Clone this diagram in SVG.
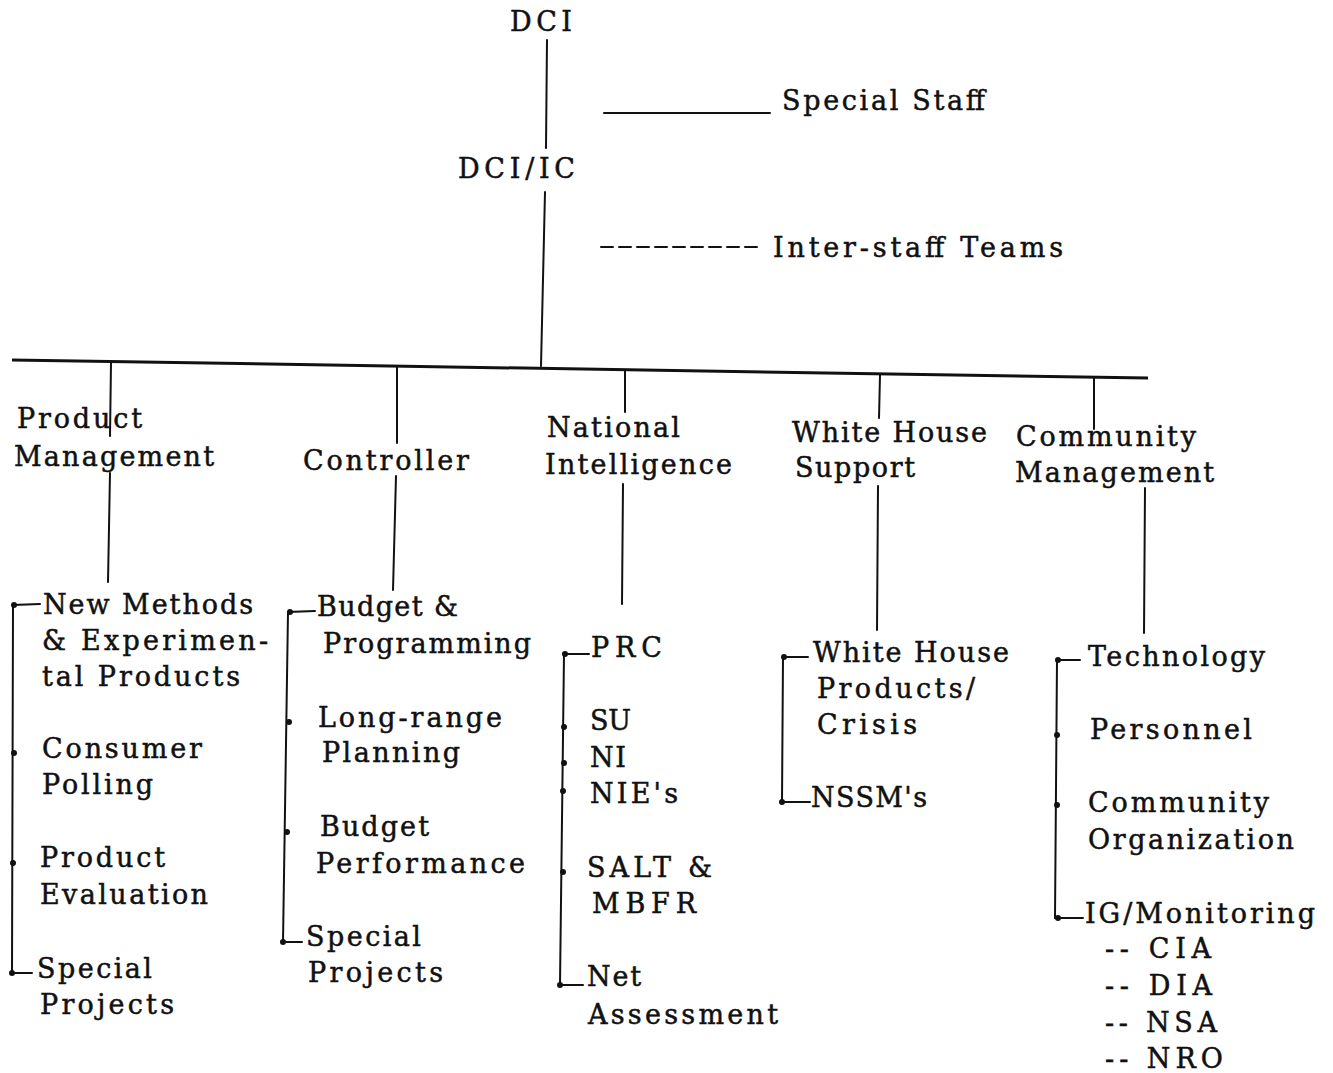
<svg xmlns="http://www.w3.org/2000/svg" width="1333" height="1073" viewBox="0 0 1333 1073">
<style>
.t{font-family:"DejaVu Serif","Liberation Serif",serif;font-size:27px;fill:#111;stroke:#111;stroke-width:0.5}
.c{stroke:#111;stroke-width:2;fill:none;stroke-linecap:round}
.m{stroke:#111;stroke-width:3;fill:none}
.d{fill:#111}
</style>
<rect width="1333" height="1073" fill="#fff"/>
<g id="connectors">
<line class="c" x1="547" y1="40" x2="546" y2="148"/>
<line class="c" x1="545" y1="192" x2="541" y2="366"/>
<line class="c" x1="604" y1="113" x2="770" y2="113" stroke-width="2.5"/>
<line class="c" x1="601" y1="247" x2="757" y2="247" stroke-dasharray="12 6" stroke-linecap="butt"/>
<line class="m" x1="12" y1="360" x2="1148" y2="378"/>
<line class="c" x1="111" y1="363" x2="110" y2="436"/>
<line class="c" x1="110" y1="473" x2="108" y2="582"/>
<line class="c" x1="397" y1="366" x2="397" y2="443"/>
<line class="c" x1="396" y1="476" x2="393" y2="590"/>
<line class="c" x1="625" y1="370" x2="625" y2="412"/>
<line class="c" x1="623" y1="484" x2="622" y2="604"/>
<line class="c" x1="880" y1="375" x2="879" y2="418"/>
<line class="c" x1="878" y1="486" x2="877" y2="630"/>
<line class="c" x1="1094" y1="378" x2="1094" y2="429"/>
<line class="c" x1="1145" y1="488" x2="1144" y2="633"/>
<polyline class="c" points="40,604 13,605 12,973 32,973"/>
<circle class="d" cx="14" cy="605" r="3"/><circle class="d" cx="14" cy="753" r="3"/><circle class="d" cx="13" cy="863" r="3"/><circle class="d" cx="12" cy="973" r="3"/>
<polyline class="c" points="315,611 288,612 283,942 302,942"/>
<circle class="d" cx="290" cy="612" r="3"/><circle class="d" cx="289" cy="722" r="3"/><circle class="d" cx="287" cy="832" r="3"/><circle class="d" cx="283" cy="942" r="3"/>
<polyline class="c" points="589,654 564,654 560,985 583,985"/>
<circle class="d" cx="565" cy="654" r="3"/><circle class="d" cx="564" cy="727" r="3"/><circle class="d" cx="564" cy="763" r="3"/><circle class="d" cx="563" cy="791" r="3"/><circle class="d" cx="563" cy="872" r="3"/><circle class="d" cx="560" cy="985" r="3"/>
<polyline class="c" points="808,657 783,657 782,802 810,802"/>
<circle class="d" cx="784" cy="657" r="3"/><circle class="d" cx="782" cy="802" r="3"/>
<polyline class="c" points="1080,660 1057,660 1055,918 1083,918"/>
<circle class="d" cx="1058" cy="660" r="3"/><circle class="d" cx="1057" cy="735" r="3"/><circle class="d" cx="1057" cy="805" r="3"/><circle class="d" cx="1058" cy="918" r="3"/>
</g>
<g id="dci"><text class="t" x="510" y="31" textLength="62" lengthAdjust="spacing">DCI</text></g>
<g id="special-staff"><text class="t" x="782" y="110" textLength="203" lengthAdjust="spacing">Special Staff</text></g>
<g id="dci-ic"><text class="t" x="458" y="178" textLength="117" lengthAdjust="spacing">DCI/IC</text></g>
<g id="inter-staff"><text class="t" x="773" y="257" textLength="290" lengthAdjust="spacing">Inter-staff Teams</text></g>

<g id="product-management">
<text class="t" x="17" y="428" textLength="125" lengthAdjust="spacing">Product</text>
<text class="t" x="14" y="466" textLength="200" lengthAdjust="spacing">Management</text>
</g>
<g id="controller"><text class="t" x="303" y="470" textLength="166" lengthAdjust="spacing">Controller</text></g>
<g id="national-intelligence">
<text class="t" x="547" y="437" textLength="133" lengthAdjust="spacing">National</text>
<text class="t" x="545" y="474" textLength="187" lengthAdjust="spacing">Intelligence</text>
</g>
<g id="white-house-support">
<text class="t" x="792" y="442" textLength="195" lengthAdjust="spacing">White House</text>
<text class="t" x="795" y="477" textLength="120" lengthAdjust="spacing">Support</text>
</g>
<g id="community-management">
<text class="t" x="1016" y="446" textLength="180" lengthAdjust="spacing">Community</text>
<text class="t" x="1015" y="482" textLength="199" lengthAdjust="spacing">Management</text>
</g>

<g id="pm-new-methods">
<text class="t" x="43" y="614" textLength="210" lengthAdjust="spacing">New Methods</text>
<text class="t" x="42" y="650" textLength="226" lengthAdjust="spacing">&amp; Experimen-</text>
<text class="t" x="42" y="686" textLength="198" lengthAdjust="spacing">tal Products</text>
</g>
<g id="pm-consumer-polling">
<text class="t" x="42" y="758" textLength="160" lengthAdjust="spacing">Consumer</text>
<text class="t" x="42" y="794" textLength="111" lengthAdjust="spacing">Polling</text>
</g>
<g id="pm-product-evaluation">
<text class="t" x="40" y="867" textLength="125" lengthAdjust="spacing">Product</text>
<text class="t" x="40" y="904" textLength="168" lengthAdjust="spacing">Evaluation</text>
</g>
<g id="pm-special-projects">
<text class="t" x="37" y="978" textLength="115" lengthAdjust="spacing">Special</text>
<text class="t" x="40" y="1014" textLength="134" lengthAdjust="spacing">Projects</text>
</g>

<g id="c-budget-programming">
<text class="t" x="317" y="616" textLength="141" lengthAdjust="spacing">Budget &amp;</text>
<text class="t" x="323" y="653" textLength="208" lengthAdjust="spacing">Programming</text>
</g>
<g id="c-long-range">
<text class="t" x="318" y="727" textLength="184" lengthAdjust="spacing">Long-range</text>
<text class="t" x="322" y="762" textLength="138" lengthAdjust="spacing">Planning</text>
</g>
<g id="c-budget-performance">
<text class="t" x="320" y="836" textLength="109" lengthAdjust="spacing">Budget</text>
<text class="t" x="316" y="873" textLength="209" lengthAdjust="spacing">Performance</text>
</g>
<g id="c-special-projects">
<text class="t" x="306" y="946" textLength="115" lengthAdjust="spacing">Special</text>
<text class="t" x="308" y="982" textLength="135" lengthAdjust="spacing">Projects</text>
</g>

<g id="ni-prc"><text class="t" x="591" y="657" textLength="71" lengthAdjust="spacing">PRC</text></g>
<g id="ni-su"><text class="t" x="590" y="730" textLength="41" lengthAdjust="spacing">SU</text></g>
<g id="ni-ni"><text class="t" x="590" y="767" textLength="36" lengthAdjust="spacing">NI</text></g>
<g id="ni-nies"><text class="t" x="590" y="803" textLength="88" lengthAdjust="spacing">NIE's</text></g>
<g id="ni-salt">
<text class="t" x="587" y="877" textLength="125" lengthAdjust="spacing">SALT &amp;</text>
<text class="t" x="592" y="913" textLength="104" lengthAdjust="spacing">MBFR</text>
</g>
<g id="ni-net">
<text class="t" x="587" y="986" textLength="54" lengthAdjust="spacing">Net</text>
<text class="t" x="588" y="1024" textLength="190" lengthAdjust="spacing">Assessment</text>
</g>

<g id="wh-products">
<text class="t" x="813" y="662" textLength="196" lengthAdjust="spacing">White House</text>
<text class="t" x="817" y="698" textLength="158" lengthAdjust="spacing">Products/</text>
<text class="t" x="817" y="734" textLength="100" lengthAdjust="spacing">Crisis</text>
</g>
<g id="wh-nssm"><text class="t" x="811" y="807" textLength="116" lengthAdjust="spacing">NSSM's</text></g>

<g id="cm-technology"><text class="t" x="1088" y="666" textLength="177" lengthAdjust="spacing">Technology</text></g>
<g id="cm-personnel"><text class="t" x="1090" y="739" textLength="162" lengthAdjust="spacing">Personnel</text></g>
<g id="cm-community-org">
<text class="t" x="1088" y="812" textLength="181" lengthAdjust="spacing">Community</text>
<text class="t" x="1088" y="849" textLength="206" lengthAdjust="spacing">Organization</text>
</g>
<g id="cm-ig">
<text class="t" x="1085" y="923" textLength="230" lengthAdjust="spacing">IG/Monitoring</text>
<text class="t" x="1105" y="958" textLength="106" lengthAdjust="spacing">-- CIA</text>
<text class="t" x="1105" y="995" textLength="107" lengthAdjust="spacing">-- DIA</text>
<text class="t" x="1105" y="1032" textLength="112" lengthAdjust="spacing">-- NSA</text>
<text class="t" x="1105" y="1068" textLength="118" lengthAdjust="spacing">-- NRO</text>
</g>
</svg>
